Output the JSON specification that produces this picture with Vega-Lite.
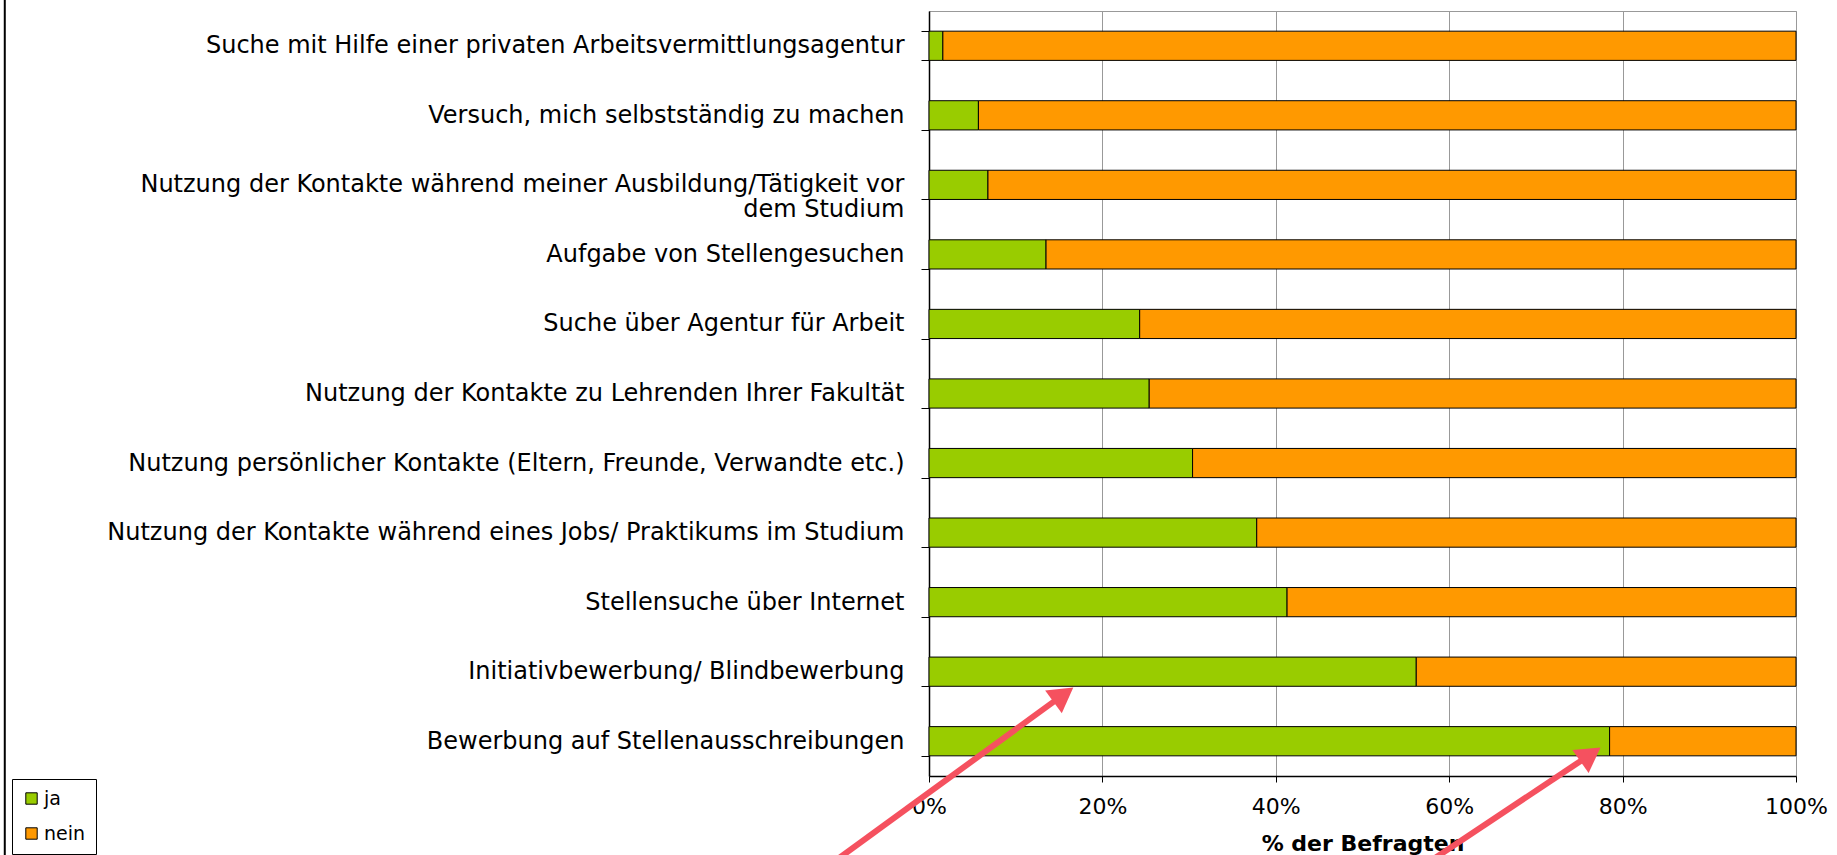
{
  "$schema": "https://vega.github.io/schema/vega-lite/v6.json",
  "width": 867,
  "height": 765,
  "autosize": {"type": "none"},
  "padding": {"left": 929, "top": 11, "right": 41, "bottom": 79},
  "background": "white",
  "config": {
    "view": {"stroke": "#999999", "strokeWidth": 1},
    "font": "DejaVu Sans"
  },
  "datasets": {
    "bars": [
      {"kategorie": "Suche mit Hilfe einer privaten Arbeitsvermittlungsagentur", "antwort": "ja", "prozent": 1.6},
      {"kategorie": "Suche mit Hilfe einer privaten Arbeitsvermittlungsagentur", "antwort": "nein", "prozent": 98.4},
      {"kategorie": "Versuch, mich selbstständig zu machen", "antwort": "ja", "prozent": 5.7},
      {"kategorie": "Versuch, mich selbstständig zu machen", "antwort": "nein", "prozent": 94.3},
      {"kategorie": "Nutzung der Kontakte während meiner Ausbildung/Tätigkeit vor|dem Studium", "antwort": "ja", "prozent": 6.8},
      {"kategorie": "Nutzung der Kontakte während meiner Ausbildung/Tätigkeit vor|dem Studium", "antwort": "nein", "prozent": 93.2},
      {"kategorie": "Aufgabe von Stellengesuchen", "antwort": "ja", "prozent": 13.5},
      {"kategorie": "Aufgabe von Stellengesuchen", "antwort": "nein", "prozent": 86.5},
      {"kategorie": "Suche über Agentur für Arbeit", "antwort": "ja", "prozent": 24.3},
      {"kategorie": "Suche über Agentur für Arbeit", "antwort": "nein", "prozent": 75.7},
      {"kategorie": "Nutzung der Kontakte zu Lehrenden Ihrer Fakultät", "antwort": "ja", "prozent": 25.4},
      {"kategorie": "Nutzung der Kontakte zu Lehrenden Ihrer Fakultät", "antwort": "nein", "prozent": 74.6},
      {"kategorie": "Nutzung persönlicher Kontakte (Eltern, Freunde, Verwandte etc.)", "antwort": "ja", "prozent": 30.4},
      {"kategorie": "Nutzung persönlicher Kontakte (Eltern, Freunde, Verwandte etc.)", "antwort": "nein", "prozent": 69.6},
      {"kategorie": "Nutzung der Kontakte während eines Jobs/ Praktikums im Studium", "antwort": "ja", "prozent": 37.8},
      {"kategorie": "Nutzung der Kontakte während eines Jobs/ Praktikums im Studium", "antwort": "nein", "prozent": 62.2},
      {"kategorie": "Stellensuche über Internet", "antwort": "ja", "prozent": 41.3},
      {"kategorie": "Stellensuche über Internet", "antwort": "nein", "prozent": 58.7},
      {"kategorie": "Initiativbewerbung/ Blindbewerbung", "antwort": "ja", "prozent": 56.2},
      {"kategorie": "Initiativbewerbung/ Blindbewerbung", "antwort": "nein", "prozent": 43.8},
      {"kategorie": "Bewerbung auf Stellenausschreibungen", "antwort": "ja", "prozent": 78.5},
      {"kategorie": "Bewerbung auf Stellenausschreibungen", "antwort": "nein", "prozent": 21.5}
    ],
    "arrows": [
      {"pfeil": "a", "x1": -13.9, "y1": -1.5, "x2": 15.5, "y2": 1.17, "winkel": 54},
      {"pfeil": "b", "x1": 54.5, "y1": -1.5, "x2": 76.3, "y2": 0.31, "winkel": 55}
    ],
    "frame": [
      {"x": -106.6, "y1": -2, "y2": 12}
    ]
  },
  "layer": [
    {
      "data": {"name": "bars"},
      "mark": {"type": "bar", "stroke": "black", "strokeWidth": 1},
      "encoding": {
        "y": {
          "field": "kategorie",
          "type": "nominal",
          "sort": null,
          "scale": {"paddingInner": 0.58, "paddingOuter": 0.29},
          "axis": {
            "title": null,
            "labelExpr": "split(datum.label, '|')",
            "labelFont": "DejaVu Sans",
            "labelFontSize": 24,
            "labelColor": "black",
            "labelLimit": 1000,
            "labelLineHeight": 25,
            "labelPadding": 17,
            "tickBand": "extent",
            "tickSize": 8,
            "tickColor": "black",
            "domainColor": "black",
            "domainWidth": 1.5,
            "grid": false
          }
        },
        "x": {
          "field": "prozent",
          "type": "quantitative",
          "stack": "zero",
          "scale": {"domain": [0, 100], "nice": false},
          "axis": {
            "title": "% der Befragten",
            "titleFont": "DejaVu Sans",
            "titleFontSize": 22,
            "titleFontWeight": "bold",
            "titleColor": "black",
            "titlePadding": 16,
            "values": [0, 20, 40, 60, 80, 100],
            "labelExpr": "datum.value + '%'",
            "labelFont": "DejaVu Sans",
            "labelFontSize": 22,
            "labelColor": "black",
            "labelPadding": 14,
            "labelFlush": false,
            "tickSize": 6,
            "tickColor": "black",
            "domainColor": "black",
            "domainWidth": 1.5,
            "grid": true,
            "gridColor": "#999999",
            "gridWidth": 1
          }
        },
        "color": {
          "field": "antwort",
          "type": "nominal",
          "scale": {"domain": ["ja", "nein"], "range": ["#99cc00", "#ff9900"]},
          "legend": {
            "title": null,
            "orient": "none",
            "legendX": -917,
            "legendY": 768,
            "strokeColor": "black",
            "fillColor": "white",
            "padding": 10,
            "symbolType": "square",
            "symbolSize": 130,
            "symbolStrokeColor": "black",
            "symbolStrokeWidth": 1,
            "symbolOpacity": 1,
            "labelFont": "DejaVu Sans",
            "labelFontSize": 19,
            "labelColor": "black",
            "labelOffset": 3,
            "rowPadding": 15
          }
        },
        "order": {"field": "antwort", "sort": "ascending"}
      }
    },
    {
      "data": {"name": "frame"},
      "mark": {"type": "rule", "color": "black", "strokeWidth": 2, "clip": false},
      "encoding": {
        "x": {"field": "x", "type": "quantitative"},
        "y": {"field": "y1", "type": "quantitative", "scale": {"domain": [0, 11], "nice": false, "zero": false}, "axis": null},
        "y2": {"field": "y2"}
      }
    },
    {
      "data": {"name": "arrows"},
      "mark": {"type": "rule", "color": "#f5515f", "strokeWidth": 6, "clip": false},
      "encoding": {
        "x": {"field": "x1", "type": "quantitative"},
        "x2": {"field": "x2"},
        "y": {"field": "y1", "type": "quantitative", "scale": {"domain": [0, 11], "nice": false, "zero": false}, "axis": null},
        "y2": {"field": "y2"}
      }
    },
    {
      "data": {"name": "arrows"},
      "mark": {"type": "point", "shape": "triangle-up", "filled": true, "color": "#f5515f", "opacity": 1, "size": 800, "clip": false},
      "encoding": {
        "x": {"field": "x2", "type": "quantitative"},
        "y": {"field": "y2", "type": "quantitative", "scale": {"domain": [0, 11], "nice": false, "zero": false}, "axis": null},
        "angle": {"field": "winkel", "type": "quantitative", "scale": null}
      }
    }
  ],
  "resolve": {"scale": {"y": "independent", "color": "independent"}}
}
